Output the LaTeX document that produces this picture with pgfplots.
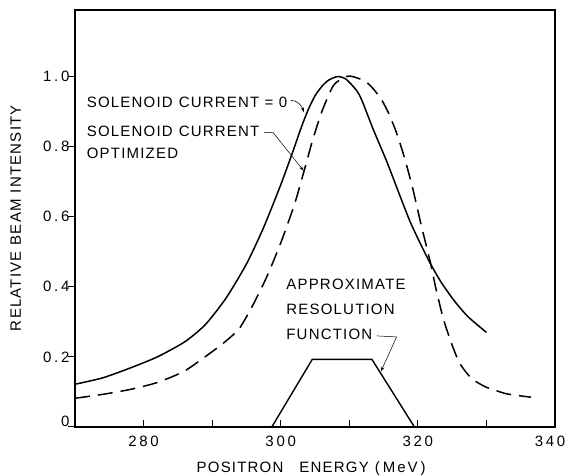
\documentclass[border=0pt]{standalone}
\usepackage{fontspec}
\setmainfont{Liberation Sans}
\newfontfamily\lbl[LetterSpace=8]{Liberation Sans}
\newfontfamily\tck[LetterSpace=18]{Liberation Sans}
\usepackage{pgfplots}
\pgfplotsset{compat=1.18}
\usetikzlibrary{arrows.meta}
\newcommand{\fs}{\fontsize{15}{17}\selectfont}
\begin{document}
\begin{tikzpicture}
\useasboundingbox (0,0) rectangle (568pt,476pt);
\begin{axis}[
  at={(75pt,49pt)}, anchor=south west,
  scale only axis, width=480pt, height=417pt,
  xmin=270, xmax=340, ymin=0, ymax=1.19,
  axis line style={line width=1.1pt},
  xtick={280,290,300,310,320,330},
  xticklabels={280,,300,,320,},
  extra x ticks={340},
  extra x tick labels={340},
  extra x tick style={xticklabel style={xshift=-5pt}},
  ytick={0,0.2,0.4,0.6,0.8,1.0},
  yticklabels={\raisebox{6pt}[\height][\depth]{0},0.2,0.4,0.6,0.8,1.0},
  xtick pos=bottom, ytick pos=left,
  tick align=inside, major tick length=7pt,
  tick style={line width=1pt, black},
  ytick style={xshift=-6.5pt},
  /pgf/number format/assume math mode=true,
  ticklabel style={font=\tck\fs},
  xticklabel style={yshift=-5pt},
  yticklabel style={xshift=-2pt},
  xlabel={POSITRON\hspace{16pt}ENERGY\hspace{6pt}(\hspace{3pt}M\hspace{2pt}e\hspace{2pt}V\hspace{3pt})},
  xlabel style={font=\lbl\fs, at={(axis description cs:0.492,-0.1103)}, anchor=base},
  ylabel={RELATIVE\hspace{6pt}BEAM\hspace{6pt}INTENSITY},
  ylabel style={font=\lbl\fs, at={(axis description cs:-0.1125,0.501)}, anchor=base},
]
% solenoid current = 0 (solid)
\addplot[black, line width=1.5pt, smooth, tension=0.4] coordinates {
(270,0.122) (274,0.140) (278,0.168) (282,0.200) (286,0.243) (289,0.292)
(292,0.367) (295,0.465) (297.5,0.569) (300,0.691) (301.7,0.782) (303,0.855)
(304,0.905) (305,0.945) (306,0.972) (307,0.990) (308.3,1.0) (309.5,0.993)
(311,0.962) (311.8,0.934) (313.5,0.849) (315.5,0.756) (317.6,0.649) (319,0.580)
(320.8,0.506) (322,0.460) (323.5,0.410) (325.4,0.358) (327.3,0.315) (330,0.270)
};
% solenoid current optimized (dashed)
\addplot[black, line width=1.5pt, dash pattern=on 15pt off 8pt, smooth, tension=0.4] coordinates {
(270,0.082) (274,0.093) (278,0.107) (282,0.127) (286,0.160) (290,0.215)
(292,0.245) (294,0.282) (296,0.350) (298,0.430) (300,0.525) (302,0.635)
(303.4,0.730) (304.6,0.815) (306,0.900) (307.7,0.975) (309.5,1.0) (310.5,1.0)
(312.3,0.987) (313.5,0.965) (314.7,0.934) (315.7,0.897) (316.9,0.839)
(318.1,0.765) (319.3,0.677) (320.5,0.575) (321.8,0.472) (322.6,0.398)
(323.7,0.310) (324.9,0.239) (326.1,0.182) (327.8,0.139) (329.8,0.115)
(331.4,0.104) (333.1,0.094) (336.5,0.085)
};
% approximate resolution function
\addplot[black, line width=1.4pt] coordinates {
(298.7,0) (304.6,0.193) (313.3,0.193) (319.5,0)
};
% annotations
\node[anchor=base west, inner sep=0pt, font=\lbl\fs] at (axis cs:271.7,0.911) {SOLENOID\hspace{6pt}CURRENT = 0};
\node[anchor=base west, inner sep=0pt, font=\lbl\fs] at (axis cs:271.7,0.829) {SOLENOID\hspace{6pt}CURRENT};
\node[anchor=base west, inner sep=0pt, font=\lbl\fs] at (axis cs:271.7,0.766) {OPTIMIZED};
\node[anchor=base west, inner sep=0pt, font=\lbl\fs] at (axis cs:300.8,0.391) {APPROXIMATE};
\node[anchor=base west, inner sep=0pt, font=\lbl\fs] at (axis cs:300.8,0.320) {RESOLUTION};
\node[anchor=base west, inner sep=0pt, font=\lbl\fs] at (axis cs:300.8,0.249) {FUNCTION};
\draw[line width=0.6pt, -{Stealth[length=5pt,width=3pt]}] (axis cs:301.5,0.932) to[out=0,in=110] (axis cs:303.4,0.898);
\draw[line width=0.5pt, -{Stealth[length=5pt,width=3pt]}] (axis cs:297.6,0.841) -- (axis cs:298.9,0.840) -- (axis cs:303.35,0.731);
\draw[line width=0.5pt, -{Stealth[length=5pt,width=3pt]}] (axis cs:314.0,0.260) -- (axis cs:316.9,0.257) -- (axis cs:314.6,0.158);
\end{axis}
\end{tikzpicture}
\end{document}
